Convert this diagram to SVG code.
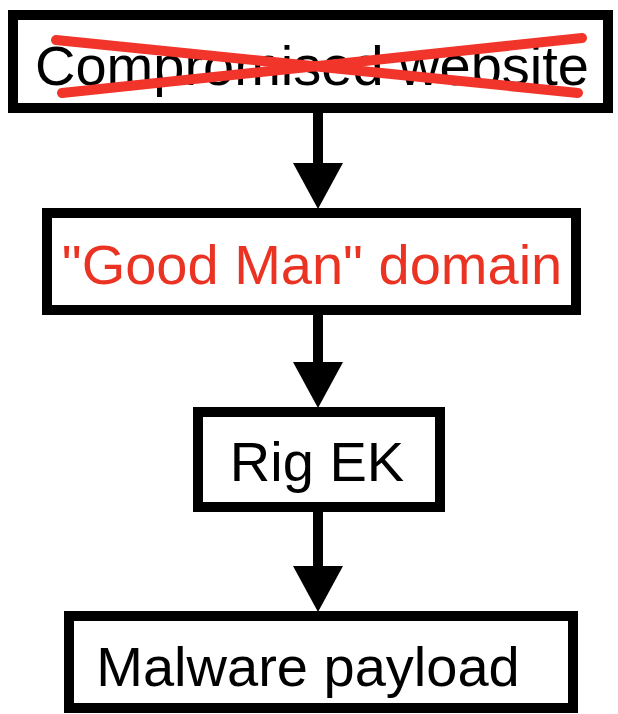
<svg xmlns="http://www.w3.org/2000/svg" width="618" height="714" viewBox="0 0 618 714">
<style>
.box{fill:#fff;stroke:#000;stroke-width:10}
.t{font-family:"Liberation Sans",Arial,sans-serif;font-size:56px;text-anchor:middle;fill:#000}
.red{fill:#ea3323}
.x{stroke:#f2352a;stroke-width:10;stroke-linecap:round;fill:none}
.shaft{stroke:#000;stroke-width:10;fill:none;marker-end:url(#ah)}
</style>
<defs>
<marker id="ah" markerUnits="userSpaceOnUse" markerWidth="46" markerHeight="50" refX="16" refY="25" orient="auto" viewBox="0 0 46 50">
<path d="M0,0 L46,25 L0,50 Z" fill="#000"/>
</marker>
</defs>
<rect width="618" height="714" fill="#fff"/>
<g id="connectors">
<line class="shaft" x1="318" y1="112" x2="318" y2="179"/>
<line class="shaft" x1="318" y1="314" x2="318" y2="378"/>
<line class="shaft" x1="318" y1="511" x2="318" y2="582"/>
</g>
<g id="compromised">
<rect class="box" x="13" y="15" width="595" height="93"/>
<text class="t" x="312" y="85">Compromised website</text>
<line class="x" x1="56" y1="40" x2="578" y2="93"/>
<line class="x" x1="62" y1="93" x2="582" y2="38"/>
</g>
<g id="goodman">
<rect class="box" x="47" y="213" width="529" height="97"/>
<text class="t red" x="312" y="284">"Good Man" domain</text>
</g>
<g id="rigek">
<rect class="box" x="198" y="412" width="242" height="95"/>
<text class="t" x="317" y="481">Rig EK</text>
</g>
<g id="payload">
<rect class="box" x="69" y="616" width="504" height="92"/>
<text class="t" x="308" y="686">Malware payload</text>
</g>
</svg>
